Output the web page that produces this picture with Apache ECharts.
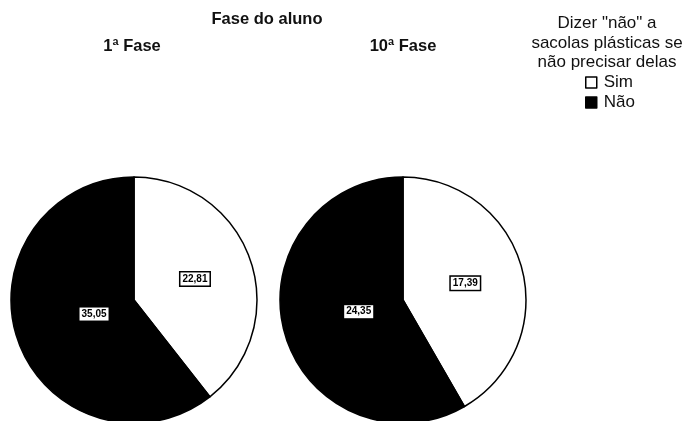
<!DOCTYPE html>
<html>
<head>
<meta charset="utf-8">
<script src="https://cdn.jsdelivr.net/npm/echarts@6/dist/echarts.min.js"></script>
<style>
  html, body { margin: 0; padding: 0; background: #fff; }
  #chart { width: 685px; height: 421px; }
</style>
</head>
<body>
<div id="chart"></div>
<script>
// Answers per student phase (percent of respondents)
const categories = ['Sim', 'Não'];
const phases = ['1ª Fase', '10ª Fase'];
const fase1Values = [22.81, 35.05];
const fase10Values = [17.39, 24.35];
const sliceColors = ['#ffffff', '#000000'];

const FONT = '"Liberation Sans", Arial, sans-serif';
const TEXT = '#111';

const chart = echarts.init(document.getElementById('chart'), null, { renderer: 'canvas' });

function fmt(v) {
  return v.toFixed(2).replace('.', ',');
}

// inner labels of the dark slices sit a little closer to the centre
const darkLabelOffsets = [[21, -7], [18, -5]];

function buildPie(values, center, idx) {
  return {
    type: 'pie',
    center: center,
    radius: 123,
    startAngle: 90,
    clockwise: true,
    silent: true,
    animation: false,
    label: {
      show: true,
      position: 'inside',
      formatter: p => fmt(p.value),
      fontFamily: FONT,
      fontSize: 10,
      fontWeight: 'bold',
      color: '#000',
      backgroundColor: '#fff',
      borderColor: '#000',
      borderWidth: 1.5,
      padding: [2, 2, 1, 2],
      lineHeight: 10
    },
    labelLine: { show: false },
    itemStyle: { borderColor: '#000', borderWidth: 1.5 },
    emphasis: { disabled: true },
    data: categories.map((name, i) => ({
      name: name,
      value: values[i],
      itemStyle: { color: sliceColors[i] },
      label: i === 1 ? { offset: darkLabelOffsets[idx] } : {}
    }))
  };
}

const titleStyle = { fontFamily: FONT, fontSize: 16.5, fontWeight: 'bold', fill: TEXT, textAlign: 'center', textVerticalAlign: 'middle' };

chart.setOption({
  backgroundColor: '#fff',
  animation: false,
  legend: {
    orient: 'vertical',
    left: 580,
    top: 69,
    itemWidth: 11,
    itemHeight: 11,
    itemGap: 3,
    selectedMode: false,
    icon: 'rect',
    itemStyle: { borderColor: '#000', borderWidth: 1.5 },
    textStyle: { fontFamily: FONT, fontSize: 17, color: TEXT, padding: [0, 0, 0, 2] },
    data: categories
  },
  graphic: [
    { type: 'text', style: Object.assign({ text: 'Fase do aluno', x: 267, y: 19 }, titleStyle) },
    { type: 'text', style: Object.assign({ text: phases[0], x: 132, y: 46 }, titleStyle) },
    { type: 'text', style: Object.assign({ text: phases[1], x: 403, y: 46 }, titleStyle) },
    {
      type: 'text',
      style: {
        text: 'Dizer "não" a\nsacolas plásticas se\nnão precisar delas',
        x: 607, y: 14,
        fontFamily: FONT, fontSize: 17, lineHeight: 19.5,
        fill: TEXT, textAlign: 'center', textVerticalAlign: 'top'
      }
    }
  ],
  series: [
    buildPie(fase1Values, [134, 300], 0),
    buildPie(fase10Values, [403, 300], 1)
  ]
});
</script>
</body>
</html>
